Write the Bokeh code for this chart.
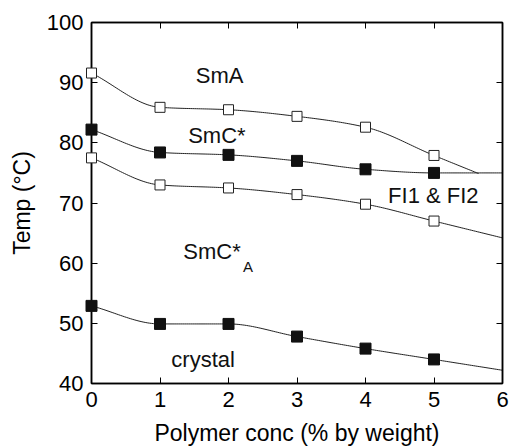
import numpy as np
from bokeh.plotting import figure
from bokeh.models import Range1d, LinearAxis, FixedTicker
from bokeh.core.properties import value
from bokeh.embed import file_html
from bokeh.resources import INLINE

# ---- data ----
conc = [0, 1, 2, 3, 4, 5]
sma_smc = [91.6, 85.9, 85.5, 84.4, 82.6, 77.9]      # open squares (SmA / SmC*)
smc_smca_top = [82.2, 78.4, 78.0, 77.0, 75.6, 75.0]  # filled squares (SmC* / FI)
smc_smca = [77.5, 73.0, 72.5, 71.4, 69.8, 67.0]      # open squares (SmC*A)
crystal = [52.9, 49.9, 49.9, 47.8, 45.8, 44.0]       # filled squares (crystal)

# end points of the boundary lines beyond the last measurement
sma_end = (5.65, 74.9)
smc_end = (6.0, 75.0)
smca_end = (6.0, 64.2)
cryst_end = (6.0, 42.2)

x_ticks = [0, 1, 2, 3, 4, 5, 6]
y_ticks = [40, 50, 60, 70, 80, 90, 100]

FONT = "Liberation Sans"


def pchip(xs, ys, num=200):
    xs = np.asarray(xs, float)
    ys = np.asarray(ys, float)
    h = np.diff(xs)
    d = np.diff(ys) / h
    n = len(xs)
    m = np.zeros(n)
    m[0] = d[0]
    m[-1] = d[-1]
    for i in range(1, n - 1):
        if d[i - 1] * d[i] <= 0:
            m[i] = 0.0
        else:
            w1 = 2 * h[i] + h[i - 1]
            w2 = h[i] + 2 * h[i - 1]
            m[i] = (w1 + w2) / (w1 / d[i - 1] + w2 / d[i])
    xx = np.linspace(xs[0], xs[-1], num)
    idx = np.clip(np.searchsorted(xs, xx) - 1, 0, n - 2)
    t = (xx - xs[idx]) / h[idx]
    h00 = 2 * t**3 - 3 * t**2 + 1
    h10 = t**3 - 2 * t**2 + t
    h01 = -2 * t**3 + 3 * t**2
    h11 = t**3 - t**2
    yy = h00 * ys[idx] + h10 * h[idx] * m[idx] + h01 * ys[idx + 1] + h11 * h[idx] * m[idx + 1]
    return xx, yy


p = figure(width=509, height=448, output_backend="svg", toolbar_location=None,
           x_range=Range1d(0, 6), y_range=Range1d(40, 100),
           min_border_left=91, min_border_right=7, min_border_top=22, min_border_bottom=64)
p.grid.visible = False
p.background_fill_color = "white"
p.border_fill_color = "white"
p.outline_line_color = "black"
p.outline_line_width = 1.5

for ax in [p.xaxis[0], p.yaxis[0]]:
    ax.axis_line_width = 1.5
    ax.major_tick_in = 6
    ax.major_tick_out = 0
    ax.minor_tick_line_color = None
    ax.major_tick_line_width = 1
    ax.major_label_text_font = FONT
    ax.major_label_text_font_size = "22px"
    ax.major_label_text_color = "black"
    ax.axis_label_text_font = FONT
    ax.axis_label_text_font_size = "23px"
    ax.axis_label_text_font_style = "normal"
    ax.axis_label_text_color = "black"

p.xaxis[0].ticker = FixedTicker(ticks=x_ticks)
p.yaxis[0].ticker = FixedTicker(ticks=y_ticks)
p.xaxis[0].axis_label = "Polymer conc (% by weight)"
p.yaxis[0].axis_label = "Temp (°C)"
p.xaxis[0].major_label_standoff = 8
p.yaxis[0].major_label_standoff = 8
p.xaxis[0].axis_label_standoff = 10
p.yaxis[0].axis_label_standoff = 9

top = LinearAxis(ticker=FixedTicker(ticks=x_ticks), major_tick_in=6, major_tick_out=0,
                 minor_tick_line_color=None,
                 major_label_overrides={t: "" for t in x_ticks},
                 axis_line_width=1.5)
right = LinearAxis(ticker=FixedTicker(ticks=y_ticks), major_tick_in=6, major_tick_out=0,
                   minor_tick_line_color=None,
                   major_label_overrides={t: "" for t in y_ticks},
                   axis_line_width=1.5)
p.add_layout(top, "above")
p.add_layout(right, "right")

# boundary curves
for ys, end in [(sma_smc, sma_end), (smc_smca_top, smc_end), (smc_smca, smca_end), (crystal, cryst_end)]:
    xx, yy = pchip(conc + [end[0]], ys + [end[1]])
    p.line(xx, yy, line_color="#222222", line_width=1)

# markers (overlay level so the ones on the axis are not clipped)
p.scatter(conc, sma_smc, marker="square", size=10, fill_color="white", line_color="#222222",
          line_width=1, level="overlay")
p.scatter(conc, smc_smca, marker="square", size=10, fill_color="white", line_color="#222222",
          line_width=1, level="overlay")
p.scatter(conc, smc_smca_top, marker="square", size=11, fill_color="#111111", line_color="#111111",
          level="overlay")
p.scatter(conc, crystal, marker="square", size=11, fill_color="#111111", line_color="#111111",
          level="overlay")

# phase labels
lab_x = [1.87, 1.83, 4.99, 1.63]
lab_y = [91.2, 81.3, 71.3, 44.0]
lab_t = ["SmA", "SmC*", "FI1 & FI2", "crystal"]
p.text(lab_x, lab_y, text=lab_t, text_font=value(FONT), text_font_size=value("22px"),
       text_align="center", text_baseline="middle", text_color="#111111")
p.text([1.34], [61.9], text=["SmC*"], text_font=value(FONT), text_font_size=value("22px"),
       text_align="left", text_baseline="middle", text_color="#111111")
p.text([2.21], [59.5], text=["A"], text_font=value(FONT), text_font_size=value("15px"),
       text_align="left", text_baseline="middle", text_color="#111111")

open("out.html", "w").write(file_html(p, INLINE))
